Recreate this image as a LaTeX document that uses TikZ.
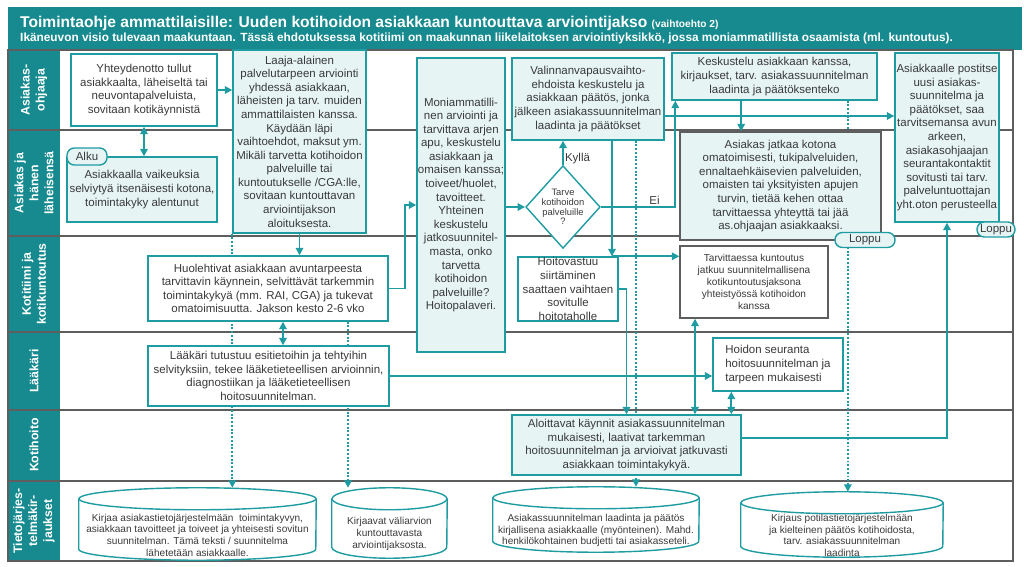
\documentclass[tikz,border=0pt]{standalone}
\usepackage{fontspec}
\setmainfont{Liberation Sans}
\usepackage{xcolor}
\usetikzlibrary{arrows.meta,positioning,shapes.geometric}
\definecolor{tealD}{HTML}{178A8F}
\definecolor{tealL}{HTML}{1F9CA2}
\definecolor{boxfill}{HTML}{E6F4F4}
\definecolor{laneln}{HTML}{5E5E5E}
\definecolor{txt}{HTML}{3A3A3A}
\pgfdeclarelayer{bg}
\pgfsetlayers{bg,main}
% outline of a data store round a body node: #1 node, #2 x radius
\newcommand{\cylout}[2]{%
  \draw[cyl] ([yshift=3.3mm]#1.north) ellipse [x radius=#2, y radius=3.3mm];
  \draw[cyl] ([yshift=3.3mm]#1.north west) -- ([yshift=3.3mm]#1.south west)
    arc[start angle=180, end angle=360, x radius=#2, y radius=3.3mm]
    -- ([yshift=3.3mm]#1.north east);}

\begin{document}
\begin{tikzpicture}[x=0.03cm, y=-0.03cm,
  wbox/.style={draw=tealL, fill=white, line width=1.2pt, align=center, inner sep=0.5pt,
    text=txt, font=\fontsize{9.8}{11.6}\selectfont},
  lbox/.style={wbox, fill=boxfill},
  pill/.style={draw=tealL, fill=boxfill, line width=1.2pt, rounded corners=2.2mm,
    inner sep=0.5pt, text=txt, font=\fontsize{9.8}{11.6}\selectfont},
  lanelab/.style={rotate=90, text=white, align=center,
    font=\bfseries\fontsize{10.5}{12.8}\selectfont},
  cylbody/.style={align=center, inner sep=0pt, text=txt, font=\fontsize{8.6}{10}\selectfont},
  cyl/.style={draw=tealL, line width=1.2pt},
  arr/.style={-{Triangle[length=2.2mm,width=2.2mm]}, tealL, line width=1.5pt},
  arr2/.style={{Triangle[length=2.2mm,width=2.2mm]}-{Triangle[length=2.2mm,width=2.2mm]}, tealL, line width=1.5pt},
  dot/.style={-{Triangle[length=2.2mm,width=2.2mm]}, tealL, line width=1.7pt, dash pattern=on 1.6pt off 1.6pt},
  lbl/.style={text=txt, font=\fontsize{9.8}{11.6}\selectfont, inner sep=1pt}]
\useasboundingbox (0,0) rectangle (1024,567);
% ---- frame, title and lanes ----
\begin{pgfonlayer}{bg}
\fill[tealD] (8,7) rectangle (1022,50);
\fill[tealD] (8,50) rectangle (60,561);
\draw[laneln, line width=1.2pt] (8,50) rectangle (1013,561);
\foreach \y in {130,236,332,410,481}
  \draw[laneln, line width=1.2pt] (8,\y) -- (1013,\y);
\end{pgfonlayer}
\node[anchor=base west, text=white, inner sep=0pt, font=\bfseries\fontsize{13.3}{15}\selectfont] (ttl) at (20,28)
  {Toimintaohje ammattilaisille: Uuden kotihoidon asiakkaan kuntouttava arviointijakso {\fontsize{8.7}{10}\selectfont(vaihtoehto 2)}};
\node[anchor=base west, text=white, inner sep=0pt, font=\bfseries\fontsize{10.1}{12}\selectfont] (sub) at (20,42)
  {Ikäneuvon visio tulevaan maakuntaan. Tässä ehdotuksessa kotitiimi on maakunnan liikelaitoksen arviointiyksikkö, jossa moniammatillista osaamista (ml. kuntoutus).};
\node[lanelab] (l1) at (34,90) {Asiakas-\\ohjaaja};
\node[lanelab] (l2) at (34,183) {Asiakas ja\\hänen\\läheisensä};
\node[lanelab] (l3) at (34,284) {Kotitiimi ja\\kotikuntoutus};
\node[lanelab] (l4) at (34,371) {Lääkäri};
\node[lanelab] (l5) at (34,445) {Kotihoito};
\node[lanelab] (l6) at (34,521) {Tietojärjes-\\telmäkir-\\jaukset};
% ---- asiakasohjaaja ----
\node[wbox, minimum width=4.38cm, minimum height=2.16cm] (b1) at (144,90)
  {Yhteydenotto tullut\\asiakkaalta, läheiseltä tai\\neuvontapalveluista,\\sovitaan kotikäynnistä};
\node[lbox, minimum width=3.99cm, minimum height=5.49cm] (b2) at (299.5,141.5)
  {Laaja-alainen\\palvelutarpeen arviointi\\yhdessä asiakkaan,\\läheisten ja tarv. muiden\\ammattilaisten kanssa.\\Käydään läpi\\vaihtoehdot, maksut ym.\\Mikäli tarvetta kotihoidon\\palveluille tai\\kuntoutukselle /CGA:lle,\\sovitaan kuntouttavan\\arviointijakson\\aloituksesta.};
\node[lbox, minimum width=2.64cm, minimum height=8.82cm] (b3) at (461,205)
  {Moniammatilli-\\nen arviointi ja\\tarvittava arjen\\apu, keskustelu\\asiakkaan ja\\omaisen kanssa;\\toiveet/huolet,\\tavoitteet.\\Yhteinen\\keskustelu\\jatkosuunnitel-\\masta, onko\\tarvetta\\kotihoidon\\palveluille?\\Hoitopalaveri.};
\node[lbox, minimum width=4.56cm, minimum height=2.46cm] (b4) at (588,99)
  {Valinnanvapausvaihto-\\ehdoista keskustelu ja\\asiakkaan päätös, jonka\\jälkeen asiakassuunnitelman\\laadinta ja päätökset};
\node[lbox, minimum width=6.15cm, minimum height=1.41cm] (b5) at (774.5,76.5)
  {Keskustelu asiakkaan kanssa,\\kirjaukset, tarv. asiakassuunnitelman\\laadinta ja päätöksenteko};
\node[lbox, minimum width=3.12cm, minimum height=5.07cm] (b6) at (947,137.5)
  {Asiakkaalle postitse\\uusi asiakas-\\suunnitelma ja\\päätökset, saa\\tarvitsemansa avun\\arkeen,\\asiakasohjaajan\\seurantakontaktit\\sovitusti tai tarv.\\palveluntuottajan\\yht.oton perusteella};
% ---- asiakas ja läheiset ----
\node[lbox, minimum width=4.5cm, minimum height=1.95cm] (b7) at (142,189.5)
  {Asiakkaalla vaikeuksia\\selviytyä itsenäisesti kotona,\\toimintakyky alentunut};
\node[pill, minimum width=1.2cm, minimum height=0.51cm] (alku) at (87,156.5) {Alku};
\node[diamond, draw=tealL, fill=white, line width=1.2pt, aspect=0.9, inner sep=0pt, align=center,
  text=txt, font=\fontsize{8}{8.2}\selectfont] (dia) at (563,207) {Tarve\\kotihoidon\\palveluille\\?};
\node[lbox, draw=laneln, minimum width=6.03cm, minimum height=3.24cm] (b8) at (780.5,186)
  {Asiakas jatkaa kotona\\omatoimisesti, tukipalveluiden,\\ennaltaehkäisevien palveluiden,\\omaisten tai yksityisten apujen\\turvin, tietää kehen ottaa\\tarvittaessa yhteyttä tai jää\\as.ohjaajan asiakkaaksi.};
\node[pill, minimum width=1.8cm, minimum height=0.45cm] (loppu1) at (865,240) {Loppu};
\node[pill, minimum width=1.14cm, minimum height=0.45cm] (loppu2) at (996,229.5) {Loppu};
% ---- kotitiimi ----
\node[wbox, minimum width=7.2cm, minimum height=1.95cm] (b9) at (268,288.5)
  {Huolehtivat asiakkaan avuntarpeesta\\tarvittavin käynnein, selvittävät tarkemmin\\toimintakykyä (mm. RAI, CGA) ja tukevat\\omatoimisuutta. Jakson kesto 2-6 vko};
\node[wbox, minimum width=3.0cm, minimum height=1.92cm] (b10) at (568,289)
  {Hoitovastuu\\siirtäminen\\saattaen vaihtaen\\sovitulle\\hoitotaholle};
\node[wbox, draw=laneln, minimum width=4.44cm, minimum height=2.16cm,
  font=\fontsize{8.6}{10.2}\selectfont] (b11) at (754,282)
  {Tarvittaessa kuntoutus\\jatkuu suunnitelmallisena\\kotikuntoutusjaksona\\yhteistyössä kotihoidon\\kanssa};
% ---- lääkäri ----
\node[wbox, minimum width=7.23cm, minimum height=1.8cm] (b12) at (268.5,376)
  {Lääkäri tutustuu esitietoihin ja tehtyihin\\selvityksiin, tekee lääketieteellisen arvioinnin,\\diagnostiikan ja lääketieteellisen\\hoitosuunnitelman.};
\node[wbox, align=left, minimum width=3.9cm, minimum height=1.59cm] (b13) at (778,364.5)
  {Hoidon seuranta\\hoitosuunnitelman ja\\tarpeen mukaisesti};
% ---- kotihoito ----
\node[lbox, minimum width=6.87cm, minimum height=1.8cm] (b14) at (626.5,445)
  {Aloittavat käynnit asiakassuunnitelman\\mukaisesti, laativat tarkemman\\hoitosuunnitelman ja arvioivat jatkuvasti\\asiakkaan toimintakykyä.};
% ---- kirjaukset ----
\node[cylbody, minimum width=7.11cm, minimum height=1.5cm] (c1) at (197.5,535)
  {Kirjaa asiakastietojärjestelmään \ toimintakyvyn,\\asiakkaan tavoitteet ja toiveet ja yhteisesti sovitun\\suunnitelman. Tämä teksti / suunnitelma\\lähetetään asiakkaalle.};
\node[cylbody, minimum width=3.45cm, minimum height=1.44cm] (c2) at (389.5,534)
  {Kirjaavat väliarvion\\kuntouttavasta\\arviointijaksosta.};
\node[cylbody, minimum width=6.18cm, minimum height=1.29cm] (c3) at (596,530.5)
  {Asiakassuunnitelman laadinta ja päätös\\kirjallisena asiakkaalle (myönteinen). Mahd.\\henkilökohtainen budjetti tai asiakasseteli.};
\node[cylbody, minimum width=6.06cm, minimum height=1.29cm] (c4) at (842,535.5)
  {Kirjaus potilastietojärjestelmään\\ja kielteinen päätös kotihoidosta,\\tarv. asiakassuunnitelman\\laadinta};
\cylout{c1}{3.555cm}
\cylout{c2}{1.725cm}
\cylout{c3}{3.09cm}
\cylout{c4}{3.03cm}
\coordinate (c1top) at ([yshift=6.6mm]c1.north);
\coordinate (c2top) at ([yshift=6.6mm]c2.north);
\coordinate (c3top) at ([yshift=6.6mm]c3.north);
\coordinate (c4top) at ([yshift=6.6mm]c4.north);
% ---- connectors ----
\draw[arr] (b1.east) -- (b1.east -| b2.west);
\draw[arr2] (b1.south) -- (b1.south |- b7.north);
\draw[arr] (b2.south) -- (b2.south |- b9.north);
\draw[arr] (b9.east) -- ++(4.8mm,0) |- (b3.west);
\draw[arr] (b3.east |- dia.west) -- (dia.west);
\draw[arr] (dia.north) -- node[lbl, pos=0.25, right] {Kyllä} (dia.north |- b4.south);
\draw[arr] (dia.east) -| node[lbl, pos=0.36, above] {Ei} ([xshift=1.2mm]b5.south west);
\draw[arr] ([yshift=-5.1mm]b4.east) coordinate (e1) -- (e1 -| b6.west);
\draw[arr] ([xshift=-10mm]b5.south) coordinate (e2) -- (e2 |- b8.north);
\draw[arr] ([xshift=7.2mm]b4.south) coordinate (e3) -- (e3 |- b10.north);
\draw[arr] (e3 |- b10.north) -- (b10.north -| b11.west);
\draw[arr] (b10.east) -| (b14.north);
\draw[arr2] ([xshift=-17.7mm]b11.south) coordinate (e5) -- (e5 |- b14.north);
\draw[arr2] ([xshift=5.7mm]b13.south west) coordinate (e6) -- (e6 |- b14.north);
\draw[arr2] ([xshift=4.5mm]b9.south) coordinate (e7) -- (e7 |- b12.north);
\draw[arr] (b12.east) -- (b12.east -| b13.west);
\draw[arr] ([yshift=2mm]b14.east) -| (b6.south);
% dotted record lines run behind the boxes
\begin{pgfonlayer}{bg}
\draw[dot] (b2.south west) -- (b2.south west |- c1top);
\draw[dot] ([xshift=24mm]b9.south) coordinate (d2) -- (d2 |- c2top);
\draw[dot] ([xshift=14.4mm]b4.south) coordinate (d3) -- (d3 |- c3top);
\draw[dot] ([xshift=22mm]b5.south) coordinate (d4) -- (d4 |- c4top);
\end{pgfonlayer}
\end{tikzpicture}
\end{document}
